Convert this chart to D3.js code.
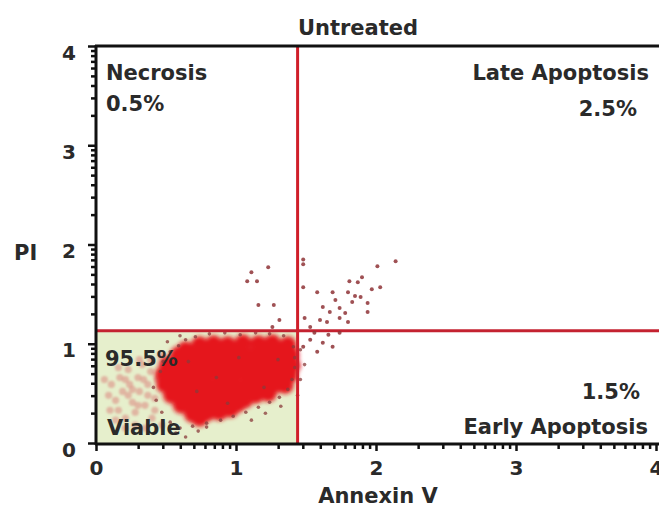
<!DOCTYPE html>
<html>
<head>
<meta charset="utf-8">
<script src="https://cdn.jsdelivr.net/npm/d3@7"></script>
<style>
body { margin: 0; background: #fff; }
text { font-family: "DejaVu Sans", sans-serif; font-weight: bold; fill: #2a2a2a; }
</style>
</head>
<body>
<svg id="svg" width="659" height="508"></svg>
<script>
// gate positions (decades)
var gateX = 1.44;
var gateY = 1.13;

var majorTicks = [0, 1, 2, 3, 4];

var quadLabels = ["Necrosis", "Late Apoptosis", "Viable", "Early Apoptosis"];
var quadPercents = ["0.5%", "2.5%", "95.5%", "1.5%"];

// dense core of the viable population [annexin, PI]
var corePts = [
 [0.74,0.99],[0.84,1.00],[0.94,0.99],[1.05,1.01],[1.16,1.00],[1.26,1.01],[1.37,0.99],
 [0.59,0.89],[0.69,0.90],[0.79,0.88],[0.89,0.89],[0.99,0.90],[1.09,0.88],[1.19,0.89],[1.29,0.90],[1.39,0.89],
 [0.51,0.79],[0.61,0.80],[0.71,0.78],[0.81,0.79],[0.91,0.80],[1.01,0.78],[1.11,0.79],[1.21,0.80],[1.31,0.79],[1.40,0.78],
 [0.48,0.69],[0.58,0.70],[0.68,0.68],[0.78,0.69],[0.88,0.70],[0.98,0.68],[1.08,0.69],[1.18,0.70],[1.28,0.69],[1.38,0.68],
 [0.49,0.59],[0.59,0.60],[0.69,0.58],[0.79,0.59],[0.89,0.60],[0.99,0.58],[1.09,0.59],[1.19,0.60],[1.29,0.59],[1.35,0.58],
 [0.54,0.48],[0.64,0.49],[0.74,0.47],[0.84,0.48],[0.94,0.49],[1.04,0.47],[1.14,0.48],[1.23,0.50],
 [0.61,0.38],[0.71,0.39],[0.81,0.37],[0.91,0.38],[1.01,0.39],
 [0.69,0.29],[0.79,0.30],[0.88,0.31],
 [0.64,0.94],[0.84,0.94],[1.04,0.95],[1.24,0.95],[0.56,0.74],[0.76,0.74],[0.96,0.74],[1.16,0.74],[1.34,0.74],
 [0.54,0.64],[0.74,0.64],[0.94,0.63],[1.14,0.64],[1.32,0.63],[0.59,0.53],[0.79,0.53],[0.99,0.54],[1.19,0.54],
 [0.66,0.43],[0.86,0.43],[1.06,0.43],[0.76,0.34],[0.96,0.34],[0.74,0.25]
];

// darker events around the edge of the cluster
var edgePts = [
 [0.46,0.72],[0.48,0.82],[0.53,0.92],[0.59,0.98],[0.64,1.04],[0.71,1.07],[0.81,1.10],[0.92,1.11],
 [1.03,1.09],[1.14,1.11],[1.24,1.10],[1.34,1.08],[1.41,0.97],[1.42,0.86],[1.42,0.76],[1.40,0.64],
 [1.37,0.54],[1.31,0.46],[1.24,0.41],[1.16,0.36],[1.07,0.31],[0.98,0.27],[0.89,0.23],[0.79,0.20],
 [0.69,0.17],[0.60,0.15],[0.53,0.21],[0.47,0.31],[0.43,0.43],[0.41,0.56],[0.57,0.10],[0.64,0.06],
 [0.73,0.12],[0.79,0.16],[1.11,0.23],[1.21,0.30],[1.32,0.37],[0.51,1.02],[0.60,1.08],
 [1.46,0.94],[1.49,0.79],[1.46,0.64],[1.44,0.48],
 [0.66,0.82],[0.86,0.66],[1.02,0.86],[1.20,0.56],[0.72,0.52],[0.94,0.40],[1.30,0.84]
];

// late apoptosis tail and stray events
var tailPts = [
 [2.14,1.83],[2.01,1.78],[1.90,1.67],[1.87,1.62],[1.81,1.63],[1.80,1.52],[1.69,1.52],[1.58,1.52],
 [1.71,1.44],[1.83,1.42],[1.94,1.41],[2.03,1.57],[1.97,1.55],[1.62,1.37],[1.74,1.36],[1.67,1.32],
 [1.78,1.31],[1.94,1.32],[1.60,1.24],[1.65,1.22],[1.74,1.26],[1.80,1.22],[1.53,1.17],[1.49,1.26],
 [1.56,1.11],[1.66,1.09],[1.74,1.11],[1.53,1.04],[1.62,1.01],[1.69,0.97],[1.48,0.97],[1.58,0.92],
 [1.48,1.85],[1.48,1.80],[1.48,1.57],[1.85,1.48],[1.89,1.47],
 [1.11,1.72],[1.23,1.77],[1.08,1.63],[1.15,1.63],[1.16,1.39],[1.27,1.39],[1.26,1.17],[1.31,1.24]
];

// faint low-annexin events
var faintPts = [
 [0.09,0.48],[0.11,0.59],[0.14,0.43],[0.16,0.33],[0.17,0.66],[0.19,0.52],[0.21,0.25],[0.23,0.74],
 [0.24,0.59],[0.26,0.41],[0.28,0.31],[0.30,0.66],[0.31,0.52],[0.33,0.79],[0.35,0.38],[0.37,0.59],
 [0.39,0.72],[0.40,0.25],[0.42,0.45],[0.44,0.64],[0.14,0.23],[0.10,0.33],[0.21,0.15],[0.28,0.18],
 [0.35,0.15],[0.47,0.18],[0.31,0.84],[0.39,0.84],[0.46,0.89],[0.16,0.76],[0.23,0.48],[0.30,0.38],
 [0.37,0.48],[0.42,0.33],[0.06,0.64],[0.26,0.54],[0.34,0.64],[0.21,0.64]
];

var svg = d3.select("#svg");

var defs = svg.append("defs");
defs.append("filter").attr("id", "soft")
 .attr("x", "-20%").attr("y", "-20%").attr("width", "140%").attr("height", "140%")
 .append("feGaussianBlur").attr("stdDeviation", 2.2);
defs.append("filter").attr("id", "haze")
 .append("feGaussianBlur").attr("stdDeviation", 1.2);

var x = d3.scaleLinear().domain([0, 4]).range([96, 656]);
var y = d3.scaleLinear().domain([0, 4]).range([443, 46]);

// viable gate fill
svg.append("rect")
 .attr("x", x(0))
 .attr("y", y(gateY))
 .attr("width", x(gateX) - x(0))
 .attr("height", y(0) - y(gateY))
 .style("fill", "#e6efcc");

svg.append("g").attr("filter", "url(#haze)")
 .selectAll("circle").data(faintPts).enter().append("circle")
 .attr("cx", function(d){ return x(d[0]); })
 .attr("cy", function(d){ return y(d[1]); })
 .attr("r", 3.6)
 .style("fill", "#dc8f86")
 .style("opacity", 0.6);

svg.append("g").attr("filter", "url(#soft)")
 .selectAll("circle").data(corePts).enter().append("circle")
 .attr("cx", function(d){ return x(d[0]); })
 .attr("cy", function(d){ return y(d[1]); })
 .attr("r", 8.5)
 .style("fill", "#e5161d");

svg.append("g").selectAll("circle").data(edgePts).enter().append("circle")
 .attr("cx", function(d){ return x(d[0]); })
 .attr("cy", function(d){ return y(d[1]); })
 .attr("r", 1.8)
 .style("fill", "#8a3b3b")
 .style("opacity", 0.75);

// quadrant lines
svg.append("line")
 .attr("x1", x(0)).attr("x2", 659)
 .attr("y1", y(gateY)).attr("y2", y(gateY))
 .style("stroke", "#c42230")
 .style("stroke-width", 3);
svg.append("line")
 .attr("x1", x(gateX)).attr("x2", x(gateX))
 .attr("y1", y(4)).attr("y2", y(0))
 .style("stroke", "#d01e2a")
 .style("stroke-width", 3);

svg.append("g").selectAll("circle").data(tailPts).enter().append("circle")
 .attr("cx", function(d){ return x(d[0]); })
 .attr("cy", function(d){ return y(d[1]); })
 .attr("r", 2)
 .style("fill", "#8e3236")
 .style("opacity", 0.85);

// log minor tick positions within each decade
var minorTicks = [];
for (var dec = 0; dec < 4; dec++) {
 for (var m = 2; m < 10; m++) minorTicks.push(dec + Math.log10(m));
}

function styleAxis(g){
 g.select(".domain").remove();
 g.selectAll("line").style("stroke", "#111").style("stroke-width", 2.5);
 g.selectAll("text").style("font-size", "20px").style("font-family", "DejaVu Sans").style("font-weight", "bold").style("fill", "#2a2a2a");
}

// y axis
svg.append("g").attr("transform", "translate(96,0)")
 .call(d3.axisLeft(y).tickValues(minorTicks).tickSize(5).tickFormat(""))
 .call(styleAxis);
svg.append("g").attr("transform", "translate(96,0)")
 .call(d3.axisLeft(y).tickValues(majorTicks).tickSize(8).tickPadding(12).tickFormat(d3.format("d")))
 .call(styleAxis)
 .selectAll("text").attr("dy", "0.65em");

// x axis
svg.append("g").attr("transform", "translate(0,444)")
 .call(d3.axisBottom(x).tickValues(minorTicks).tickSize(5).tickFormat(""))
 .call(styleAxis);
svg.append("g").attr("transform", "translate(0,444)")
 .call(d3.axisBottom(x).tickValues(majorTicks).tickSize(7).tickPadding(10).tickFormat(d3.format("d")))
 .call(styleAxis);

// frame
svg.append("line").attr("x1", 96).attr("x2", 96).attr("y1", 45).attr("y2", 445)
 .style("stroke", "#111").style("stroke-width", 3);
svg.append("line").attr("x1", 95).attr("x2", 659).attr("y1", 444).attr("y2", 444)
 .style("stroke", "#111").style("stroke-width", 3);
svg.append("line").attr("x1", 95).attr("x2", 659).attr("y1", 46).attr("y2", 46)
 .style("stroke", "#111").style("stroke-width", 3);

function label(t, px, py, anchor){
 svg.append("text")
  .attr("x", px).attr("y", py)
  .attr("text-anchor", anchor || "start")
  .style("font-size", "21px")
  .text(t);
}

label("Untreated", 358, 35, "middle");
label(quadLabels[0], 106, 80);
label(quadPercents[0], 106, 111);
label(quadLabels[1], 649, 80, "end");
label(quadPercents[1], 637, 116, "end");
label(quadPercents[2], 105, 366);
label(quadLabels[2], 107, 435);
label(quadPercents[3], 640, 399, "end");
label(quadLabels[3], 648, 434, "end");
label("PI", 14, 260);
label("Annexin V", 378, 503, "middle");
</script>
</body>
</html>
